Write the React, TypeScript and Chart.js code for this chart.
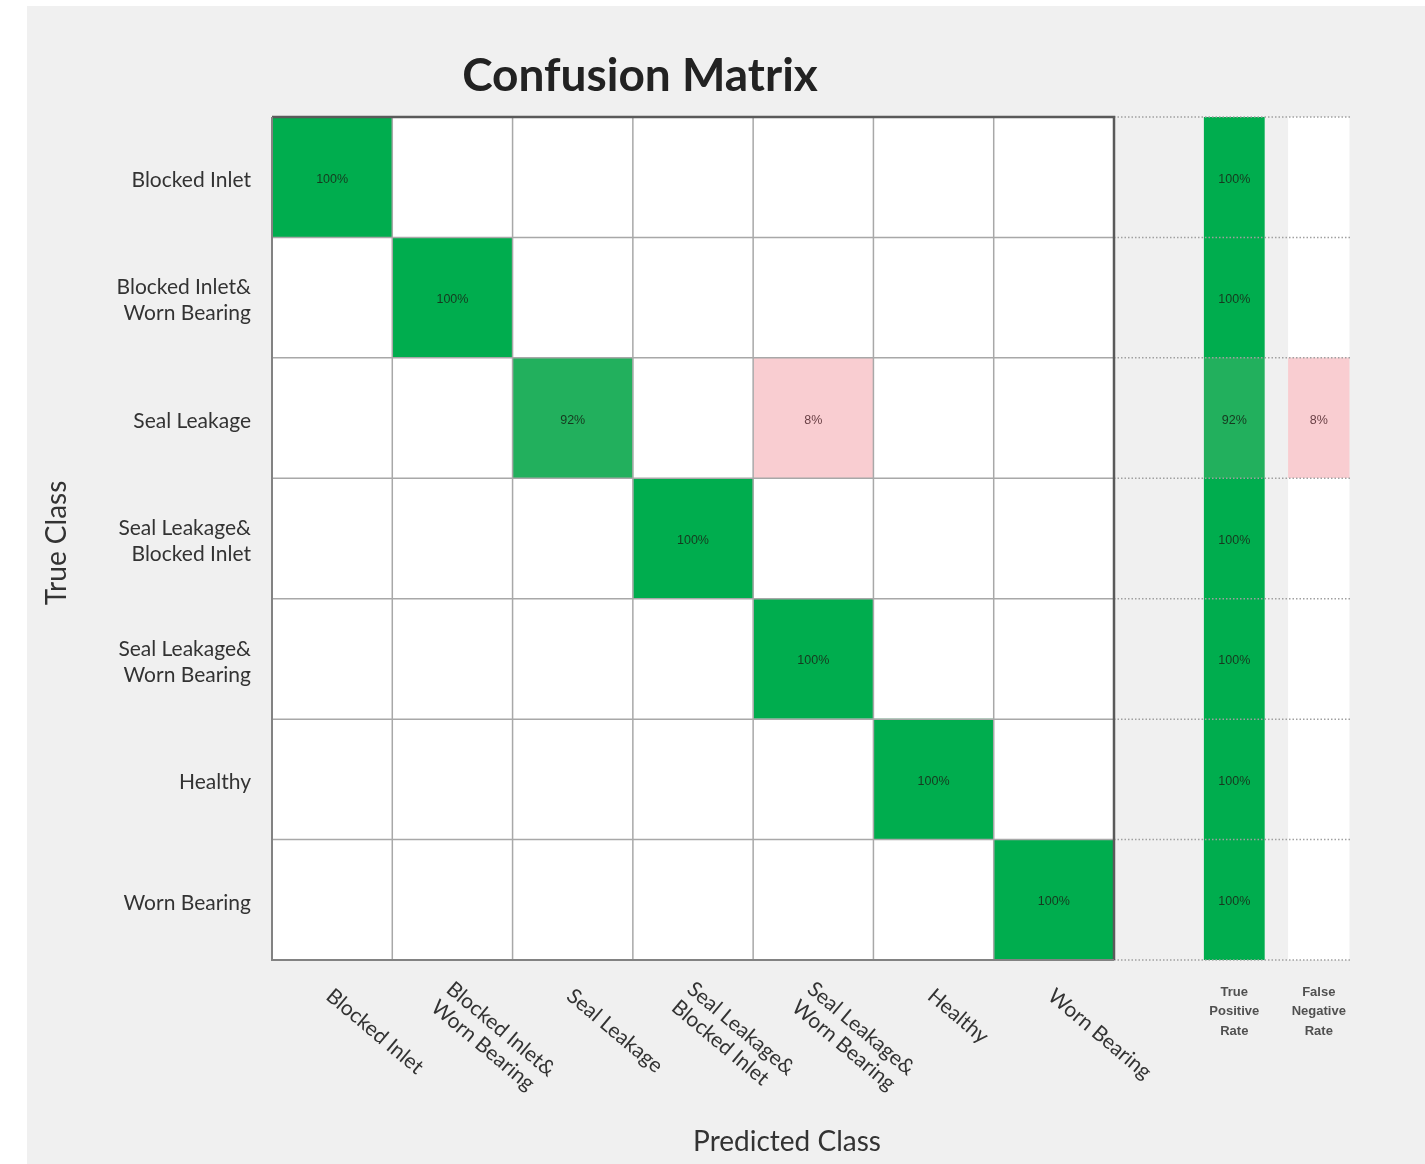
import { useEffect, useRef } from 'react';
import { Chart, registerables } from 'chart.js';

Chart.register(...registerables);

// ---- data ----
const CLASS_LABELS: string[][] = [
  ['Blocked Inlet'],
  ['Blocked Inlet&', 'Worn Bearing'],
  ['Seal Leakage'],
  ['Seal Leakage&', 'Blocked Inlet'],
  ['Seal Leakage&', 'Worn Bearing'],
  ['Healthy'],
  ['Worn Bearing'],
];

// rows = true class, columns = predicted class (percent of row)
const MATRIX_ROW_0 = [100, 0, 0, 0, 0, 0, 0];
const MATRIX_ROW_1 = [0, 100, 0, 0, 0, 0, 0];
const MATRIX_ROW_2 = [0, 0, 92, 0, 8, 0, 0];
const MATRIX_ROW_3 = [0, 0, 0, 100, 0, 0, 0];
const MATRIX_ROW_4 = [0, 0, 0, 0, 100, 0, 0];
const MATRIX_ROW_5 = [0, 0, 0, 0, 0, 100, 0];
const MATRIX_ROW_6 = [0, 0, 0, 0, 0, 0, 100];
const MATRIX = [MATRIX_ROW_0, MATRIX_ROW_1, MATRIX_ROW_2, MATRIX_ROW_3, MATRIX_ROW_4, MATRIX_ROW_5, MATRIX_ROW_6];

const TRUE_POSITIVE_RATE = [100, 100, 92, 100, 100, 100, 100];
const FALSE_NEGATIVE_RATE = [0, 0, 8, 0, 0, 0, 0];
const SUMMARY_LABELS = [['True', 'Positive', 'Rate'], ['False', 'Negative', 'Rate']];

const TITLE = 'Confusion Matrix';
const X_TITLE = 'Predicted Class';
const Y_TITLE = 'True Class';

// ---- style ----
const FONT = 'Lato, "Noto Sans", sans-serif';
const GREEN = '#00ad4e';
const GREEN_LIGHT = '#22b05d';
const PINK = '#f9cdd1';
const WHITE = '#ffffff';
const N = CLASS_LABELS.length;
const TPR_RANGE = [7.75, 8.25];
const FNR_RANGE = [8.45, 8.955];
const X_MAX = 8.962;

function cellColor(v: number, correct: boolean) {
  if (v === 0) return WHITE;
  if (correct) return v >= 100 ? GREEN : GREEN_LIGHT;
  return PINK;
}

export default function App() {
  const ref = useRef<HTMLCanvasElement>(null);

  useEffect(() => {
    document.body.style.margin = '0';
    const canvas = ref.current!;

    const datasets: any[] = [];
    for (let c = 0; c < N; c++) {
      datasets.push({
        label: 'col' + c,
        data: MATRIX.map(() => [c, c + 1]),
        values: MATRIX.map((row) => row[c]),
        backgroundColor: MATRIX.map((row, r) => cellColor(row[c], r === c)),
        textColor: MATRIX.map((_, r) => (r === c ? '#16391f' : '#6a4046')),
      });
    }
    datasets.push({
      label: 'tpr',
      data: TRUE_POSITIVE_RATE.map(() => TPR_RANGE),
      values: TRUE_POSITIVE_RATE,
      backgroundColor: TRUE_POSITIVE_RATE.map((v) => cellColor(v, true)),
      textColor: TRUE_POSITIVE_RATE.map(() => '#16391f'),
    });
    datasets.push({
      label: 'fnr',
      data: FALSE_NEGATIVE_RATE.map(() => FNR_RANGE),
      values: FALSE_NEGATIVE_RATE,
      backgroundColor: FALSE_NEGATIVE_RATE.map((v) => cellColor(v, false)),
      textColor: FALSE_NEGATIVE_RATE.map(() => '#6a4046'),
    });

    const decor = {
      id: 'decor',
      beforeDraw(chart: any) {
        const { ctx, width, height } = chart;
        ctx.save();
        ctx.fillStyle = '#ffffff';
        ctx.fillRect(0, 0, width, height);
        ctx.fillStyle = '#f0f0f0';
        ctx.fillRect(27, 6, width - 27, height - 6);
        ctx.restore();
      },
      afterDatasetsDraw(chart: any) {
        const { ctx, chartArea: ca } = chart;
        const xs = chart.scales.x;
        const ys = chart.scales.y;
        const x0 = xs.getPixelForValue(0);
        const x7 = xs.getPixelForValue(N);
        const rowEdge = (i: number) => ys.getPixelForValue(i - 0.5);
        const top = rowEdge(0);
        const bottom = rowEdge(N);
        ctx.save();
        // inner grid
        ctx.strokeStyle = '#a8a8a8';
        ctx.lineWidth = 1.5;
        for (let i = 1; i < N; i++) {
          const x = xs.getPixelForValue(i);
          ctx.beginPath();
          ctx.moveTo(x, top);
          ctx.lineTo(x, bottom);
          ctx.stroke();
          const y = rowEdge(i);
          ctx.beginPath();
          ctx.moveTo(x0, y);
          ctx.lineTo(x7, y);
          ctx.stroke();
        }
        // dotted lines for summary columns
        ctx.strokeStyle = '#a0a0a0';
        ctx.lineWidth = 1.5;
        ctx.setLineDash([1.5, 2]);
        for (let i = 0; i <= N; i++) {
          const y = rowEdge(i);
          ctx.beginPath();
          ctx.moveTo(x7, y);
          ctx.lineTo(ca.right, y);
          ctx.stroke();
        }
        ctx.setLineDash([]);
        // outer border
        ctx.strokeStyle = '#5a5a5a';
        ctx.lineWidth = 2.5;
        ctx.beginPath();
        ctx.moveTo(x0, top);
        ctx.lineTo(x7, top);
        ctx.lineTo(x7, bottom);
        ctx.stroke();
        ctx.strokeStyle = '#828282';
        ctx.lineWidth = 2;
        ctx.beginPath();
        ctx.moveTo(x0, top);
        ctx.lineTo(x0, bottom);
        ctx.lineTo(x7, bottom);
        ctx.stroke();

        // cell text
        ctx.font = '12.5px "Liberation Sans", Arial, sans-serif';
        ctx.textAlign = 'center';
        ctx.textBaseline = 'middle';
        chart.data.datasets.forEach((ds: any, di: number) => {
          const meta = chart.getDatasetMeta(di);
          meta.data.forEach((el: any, i: number) => {
            const v = ds.values[i];
            if (!v) return;
            ctx.fillStyle = ds.textColor[i];
            ctx.fillText(v + '%', (el.x + el.base) / 2, el.y + 2);
          });
        });

        // x tick labels (rotated, reading down-right)
        ctx.fillStyle = '#333333';
        ctx.font = `21px ${FONT}`;
        ctx.textAlign = 'left';
        ctx.textBaseline = 'middle';
        const ang = (40 * Math.PI) / 180;
        CLASS_LABELS.forEach((lines, c) => {
          const tx = xs.getPixelForValue(c + 0.5);
          ctx.save();
          ctx.translate(tx - 3, bottom + 33 - (lines.length - 1) * 7);
          ctx.rotate(ang);
          lines.forEach((t, li) => ctx.fillText(t, 0, li * 24));
          ctx.restore();
        });

        // summary labels
        ctx.fillStyle = '#505050';
        ctx.font = 'bold 13px "Liberation Sans", Arial, sans-serif';
        ctx.textAlign = 'center';
        [TPR_RANGE, FNR_RANGE].forEach((rng, k) => {
          const cx = (xs.getPixelForValue(rng[0]) + xs.getPixelForValue(rng[1])) / 2;
          SUMMARY_LABELS[k].forEach((t, li) => ctx.fillText(t, cx, bottom + 32 + li * 19.5));
        });
        ctx.restore();
      },
      afterDraw(chart: any) {
        const { ctx } = chart;
        ctx.save();
        ctx.fillStyle = '#222222';
        ctx.textAlign = 'center';
        ctx.textBaseline = 'middle';
        ctx.font = `bold 46px ${FONT}`;
        ctx.fillText(TITLE, 640, 76);
        ctx.fillStyle = '#333333';
        ctx.font = `28px ${FONT}`;
        ctx.fillText(X_TITLE, 787, 1142);
        ctx.translate(57, 543);
        ctx.rotate(-Math.PI / 2);
        ctx.fillText(Y_TITLE, 0, 0);
        ctx.restore();
      },
    };

    const chart = new Chart(canvas, {
      type: 'bar',
      data: { labels: CLASS_LABELS, datasets },
      options: {
        indexAxis: 'y',
        responsive: false,
        devicePixelRatio: 1,
        animation: false,
        layout: { padding: { top: 117, right: 75, left: 0, bottom: 0 } },
        datasets: {
          bar: {
            barPercentage: 1,
            categoryPercentage: 1,
            grouped: false,
            borderWidth: 0,
          } as any,
        },
        plugins: {
          legend: { display: false },
          tooltip: { enabled: false },
          title: { display: false },
        },
        scales: {
          x: {
            type: 'linear',
            min: 0,
            max: X_MAX,
            grid: { display: false },
            border: { display: false },
            ticks: { display: false },
            afterFit: (scale: any) => {
              scale.height = 204;
            },
          },
          y: {
            type: 'category',
            grid: { display: false },
            border: { display: false },
            ticks: {
              color: '#333333',
              padding: 13,
              labelOffset: 3,
              font: { family: FONT, size: 21, lineHeight: 1.24 },
            },
            afterFit: (scale: any) => {
              scale.width = 272;
            },
          },
        },
      },
      plugins: [decor],
    });

    return () => chart.destroy();
  }, []);

  return (
    <div style={{ width: 1425, height: 1164 }}>
      <canvas ref={ref} width={1425} height={1164} style={{ display: 'block', width: 1425, height: 1164 }} />
    </div>
  );
}
